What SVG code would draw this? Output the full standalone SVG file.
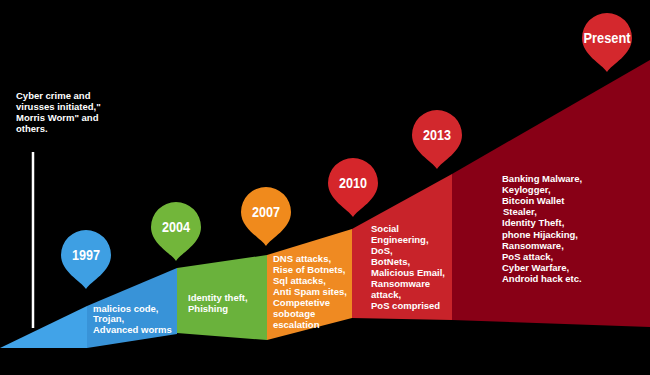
<svg xmlns="http://www.w3.org/2000/svg" xmlns:xlink="http://www.w3.org/1999/xlink" width="650" height="375" viewBox="0 0 650 375">
<style>
.t{font-family:"Liberation Sans",Arial,sans-serif;font-weight:bold;font-size:9.5px;fill:#fff}
.y{font-family:"Liberation Sans",Arial,sans-serif;font-weight:bold;font-size:14px;fill:#fff;text-anchor:middle}
</style>
<defs>
<path id="pin" d="M0,34 C-5,26 -25,17 -25,0 A25,25 0 0 1 25,0 C25,17 5,26 0,34 Z"/>
</defs>
<rect width="650" height="375" fill="#000"/>
<g id="intro">
<line x1="33" y1="152" x2="33" y2="328" stroke="#fff" stroke-width="2.5"/>
<text class="t" x="16" y="99">Cyber crime and</text>
<text class="t" x="16" y="110">virusses initiated,"</text>
<text class="t" x="16" y="121">Morris Worm" and</text>
<text class="t" x="16" y="132">others.</text>
</g>
<g id="seg1997">
<polygon points="0,348 87,306 87,348" fill="#41a3e8"/>
<polygon points="87,306 177,268 177,334 87,348" fill="#3893d8"/>
<text class="t" x="93" y="311.5">malicios code,</text>
<text class="t" x="93" y="322">Trojan,</text>
<text class="t" x="93" y="332.5">Advanced worms</text>
</g>
<g id="seg2004">
<polygon points="177,268 267,255 267,340 177,333" fill="#6ab23c"/>
<text class="t" x="188" y="300.5">Identity theft,</text>
<text class="t" x="188" y="311.5">Phishing</text>
</g>
<g id="seg2007">
<polygon points="267,255 352,229 352,318 267,340" fill="#ef8a22"/>
<text class="t" x="273" y="262">DNS attacks,</text>
<text class="t" x="273" y="273">Rise of Botnets,</text>
<text class="t" x="273" y="284">Sql attacks,</text>
<text class="t" x="273" y="295">Anti Spam sites,</text>
<text class="t" x="273" y="306">Competetive</text>
<text class="t" x="273" y="317">sobotage</text>
<text class="t" x="273" y="328">escalation</text>
</g>
<g id="seg2010">
<polygon points="352,229 452,174 452,320 352,318" fill="#c8232a"/>
<text class="t" x="371" y="232">Social</text>
<text class="t" x="371" y="243">Engineering,</text>
<text class="t" x="371" y="254">DoS,</text>
<text class="t" x="371" y="265">BotNets,</text>
<text class="t" x="371" y="276">Malicious Email,</text>
<text class="t" x="371" y="287">Ransomware</text>
<text class="t" x="371" y="298">attack,</text>
<text class="t" x="371" y="309">PoS comprised</text>
</g>
<g id="segPresent">
<polygon points="452,174 650,60 650,327 452,320" fill="#880016"/>
<text class="t" x="502" y="181.5">Banking Malware,</text>
<text class="t" x="502" y="192.7">Keylogger,</text>
<text class="t" x="502" y="203.9">Bitcoin Wallet</text>
<text class="t" x="503" y="215.1">Stealer,</text>
<text class="t" x="502" y="226.3">Identity Theft,</text>
<text class="t" x="502" y="237.5">phone Hijacking,</text>
<text class="t" x="502" y="248.7">Ransomware,</text>
<text class="t" x="502" y="259.9">PoS attack,</text>
<text class="t" x="502" y="271.1">Cyber Warfare,</text>
<text class="t" x="502" y="282.3">Android hack etc.</text>
</g>
<g id="pin1997">
<use xlink:href="#pin" href="#pin" transform="translate(86,255)" fill="#3e9fe3"/>
<text class="y" x="86" y="260" textLength="28" lengthAdjust="spacingAndGlyphs">1997</text>
</g>
<g id="pin2004">
<use xlink:href="#pin" href="#pin" transform="translate(176,227)" fill="#72b63a"/>
<text class="y" x="176" y="232" textLength="28" lengthAdjust="spacingAndGlyphs">2004</text>
</g>
<g id="pin2007">
<use xlink:href="#pin" href="#pin" transform="translate(266,212)" fill="#f08a1c"/>
<text class="y" x="266" y="217" textLength="28" lengthAdjust="spacingAndGlyphs">2007</text>
</g>
<g id="pin2010">
<use xlink:href="#pin" href="#pin" transform="translate(353,183)" fill="#d5262b"/>
<text class="y" x="353" y="188" textLength="28" lengthAdjust="spacingAndGlyphs">2010</text>
</g>
<g id="pin2013">
<use xlink:href="#pin" href="#pin" transform="translate(437,135)" fill="#d2282d"/>
<text class="y" x="437" y="140" textLength="28" lengthAdjust="spacingAndGlyphs">2013</text>
</g>
<g id="pinPresent">
<use xlink:href="#pin" href="#pin" transform="translate(607,38)" fill="#d4282d"/>
<text class="y" x="607" y="43" textLength="47" lengthAdjust="spacingAndGlyphs">Present</text>
</g>
</svg>
